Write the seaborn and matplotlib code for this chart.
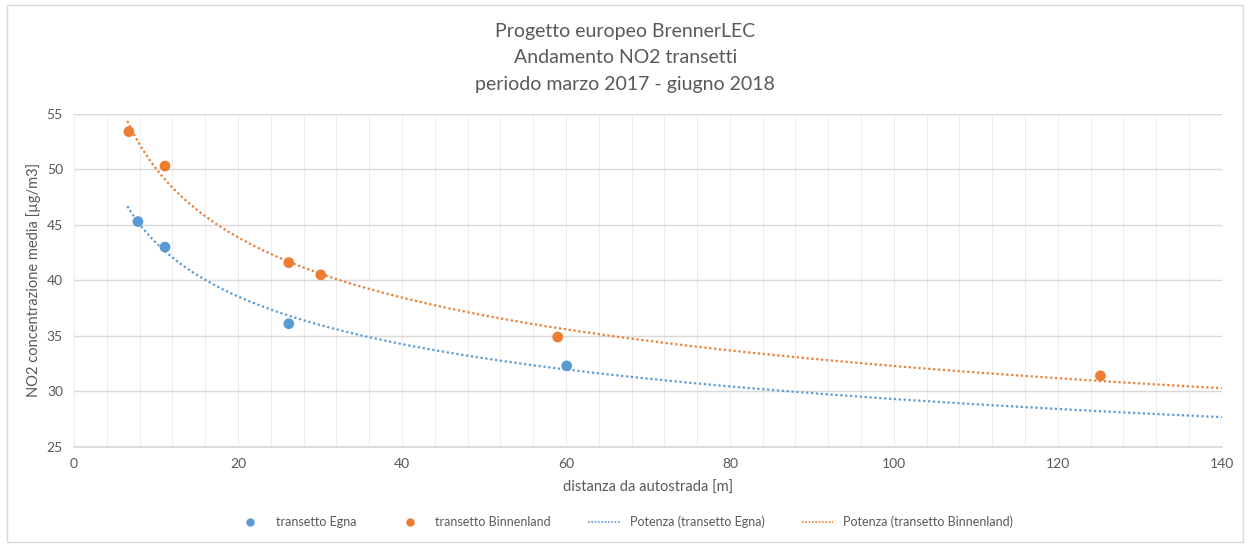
import numpy as np
import pandas as pd
import matplotlib
matplotlib.use("Agg")
import matplotlib.pyplot as plt
from matplotlib.ticker import MultipleLocator
from matplotlib.lines import Line2D
import seaborn as sns

# Data
egna_x = [7.8, 11.1, 26.2, 60.1]
egna_y = [45.3, 43.0, 36.1, 32.3]
binn_x = [6.7, 11.1, 26.2, 30.1, 59.0, 125.2]
binn_y = [53.4, 50.3, 41.6, 40.5, 34.9, 31.4]
series_names = ["transetto Egna", "transetto Binnenland"]
trend_names = ["Potenza (transetto Egna)", "Potenza (transetto Binnenland)"]
colors = ["#5B9BD5", "#ED7D31"]

sns.set_theme(style="white")
plt.rcParams['font.family'] = ['Lato', 'DejaVu Sans']
txt = "#595959"

fig = plt.figure(figsize=(12.48, 5.45), dpi=100)
ax = fig.add_axes([0.0593, 0.180, 0.9197, 0.611])

pts = pd.DataFrame({
    "x": egna_x + binn_x,
    "y": egna_y + binn_y,
    "serie": [series_names[0]] * len(egna_x) + [series_names[1]] * len(binn_x),
})

# power trendlines (least squares in log-log, as Excel does)
trend_frames = []
for xs, ys, name, x0 in [(egna_x, egna_y, trend_names[0], 6.5), (binn_x, binn_y, trend_names[1], 6.5)]:
    b, ln_a = np.polyfit(np.log(xs), np.log(ys), 1)
    xx = np.linspace(x0, 140, 300)
    trend_frames.append(pd.DataFrame({"x": xx, "y": np.exp(ln_a) * xx ** b, "serie": name}))
trend = pd.concat(trend_frames)

for name, c in zip(trend_names, colors):
    sns.lineplot(data=trend[trend.serie == name], x="x", y="y", ax=ax, color=c,
                 linewidth=1.6, linestyle=(0, (1, 1.2)), legend=False)
sns.scatterplot(data=pts, x="x", y="y", hue="serie", palette=colors, ax=ax,
                s=60, edgecolor="none", legend=False, zorder=5)

ax.set_xlim(0, 140)
ax.set_ylim(25, 55)
ax.xaxis.set_major_locator(MultipleLocator(20))
ax.xaxis.set_minor_locator(MultipleLocator(4))
ax.yaxis.set_major_locator(MultipleLocator(5))
ax.grid(which="major", axis="y", color="#D9D9D9", linewidth=1)
ax.grid(which="both", axis="x", color="#EDEDED", linewidth=0.8)
ax.set_axisbelow(True)
for s in ["top", "right", "left"]:
    ax.spines[s].set_visible(False)
ax.spines["bottom"].set_color("#D9D9D9")
ax.tick_params(axis="both", which="both", length=0, labelsize=10, labelcolor=txt, pad=8)
ax.set_xlabel("distanza da autostrada [m]", fontsize=10.5, color=txt, labelpad=8)
ax.set_ylabel("NO2 concentrazione media [µg/m3]", fontsize=10.5, color=txt, labelpad=4)

fig.text(0.501, 0.943, "Progetto europeo BrennerLEC", ha="center", va="center", fontsize=14, color=txt)
fig.text(0.501, 0.895, "Andamento NO2 transetti", ha="center", va="center", fontsize=14, color=txt)
fig.text(0.501, 0.845, "periodo marzo 2017 - giugno 2018", ha="center", va="center", fontsize=14, color=txt)

handles = [
    Line2D([], [], marker="o", linestyle="none", color=colors[0], markersize=5),
    Line2D([], [], marker="o", linestyle="none", color=colors[1], markersize=5),
    Line2D([], [], linestyle=(0, (1, 1)), color=colors[0], linewidth=1.2),
    Line2D([], [], linestyle=(0, (1, 1)), color=colors[1], linewidth=1.2),
]
leg = fig.legend(handles, series_names + trend_names, loc="center", bbox_to_anchor=(0.5, 0.042),
                 ncol=4, frameon=False, fontsize=9, handlelength=2.5, columnspacing=3.0)
for t in leg.get_texts():
    t.set_color(txt)

border = plt.Rectangle((0.006, 0.005), 0.99, 0.985, transform=fig.transFigure,
                       fill=False, edgecolor="#D9D9D9", linewidth=1)
fig.patches.append(border)

fig.savefig("out.png", dpi=100)
